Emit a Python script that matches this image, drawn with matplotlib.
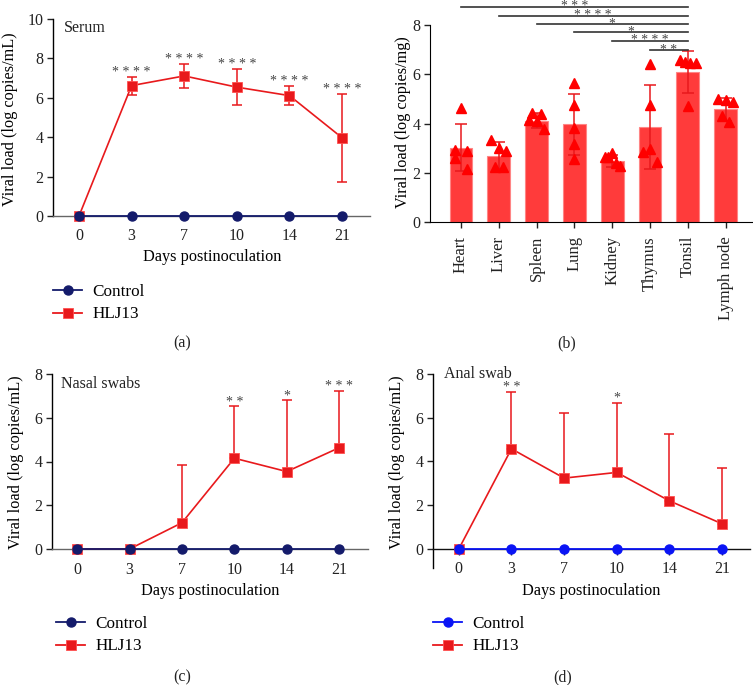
import numpy as np
import matplotlib
matplotlib.use("Agg")
import matplotlib.pyplot as plt
from matplotlib.lines import Line2D

plt.rcParams['font.family'] = ['Liberation Serif', 'DejaVu Serif']
plt.rcParams['font.size'] = 11.5

# ---------------- data ----------------
days = ["0", "3", "7", "10", "14", "21"]

serum_ctrl = [0, 0, 0, 0, 0, 0]
serum_hlj = [0, 6.62, 7.11, 6.54, 6.11, 3.97]
serum_sd = [0, 0.46, 0.60, 0.92, 0.48, 2.22]
serum_stars = ["", "****", "****", "****", "****", "****"]

organs = ["Heart", "Liver", "Spleen", "Lung", "Kidney", "Thymus", "Tonsil", "Lymph node"]
organ_mean = [3.02, 2.70, 4.12, 3.96, 2.49, 3.86, 6.08, 4.57]
organ_sd = [0.95, 0.55, 0.30, 1.25, 0.25, 1.70, 0.86, 0.45]
organ_points = [
    [4.62, 2.92, 2.90, 2.59, 2.16],
    [3.31, 3.00, 2.90, 2.22, 2.22],
    [4.43, 4.37, 4.13, 4.09, 3.79],
    [5.64, 4.77, 3.82, 3.17, 2.55],
    [2.63, 2.80, 2.62, 2.40, 2.27],
    [6.41, 4.77, 2.84, 2.96, 2.43],
    [6.57, 6.50, 6.45, 6.45, 4.71],
    [4.98, 4.94, 4.87, 4.30, 4.05],
]
point_jitter = [
    [0.0, -0.17, 0.17, -0.17, 0.17],
    [-0.21, 0.0, 0.2, -0.1, 0.1],
    [-0.11, 0.11, -0.2, 0.0, 0.2],
    [0.0, 0.0, 0.0, 0.0, 0.0],
    [-0.2, 0.0, -0.1, 0.1, 0.2],
    [0.0, 0.0, -0.18, 0.0, 0.18],
    [-0.2, -0.07, 0.06, 0.21, 0.0],
    [-0.21, 0.0, 0.2, -0.1, 0.1],
]
sig_from = ["Heart", "Liver", "Spleen", "Lung", "Kidney", "Thymus"]
sig_to = "Tonsil"
sig_y = [8.74, 8.38, 8.03, 7.70, 7.35, 6.98]
sig_stars = ["***", "****", "*", "*", "****", "**"]

nasal_ctrl = [0, 0, 0, 0, 0, 0]
nasal_hlj = [0, 0, 1.20, 4.15, 3.54, 4.63]
nasal_sd = [0, 0, 2.65, 2.37, 3.28, 2.61]
nasal_stars = ["", "", "", "**", "*", "***"]

anal_ctrl = [0, 0, 0, 0, 0, 0]
anal_hlj = [0, 4.58, 3.24, 3.50, 2.20, 1.15]
anal_sd = [0, 2.60, 2.96, 3.19, 3.04, 2.57]
anal_stars = ["", "**", "", "*", "", ""]

NAVY = '#141b6b'
BLUE = '#0a14f5'
RED = '#e8191c'
STAR_C = '#444444'
LABEL_FS = 11.7
TICK_FS = 11.5

W, H = 753, 685
fig = plt.figure(figsize=(W / 100, H / 100), dpi=100)


def px_axes(left, top, right, bottom):
    return fig.add_axes([left / W, 1 - bottom / H, (right - left) / W, (bottom - top) / H])


def line_panel(ax, ctrl, hlj, sd, stars, ctrl_color, symmetric, title, title_xy,
               ylim, yticks, xlim, xspine_color, xticks_len):
    x = np.arange(len(days))
    sd = np.array(sd)
    lower = sd if symmetric else np.zeros_like(sd)
    ax.errorbar(x, hlj, yerr=[lower, sd], fmt='none', ecolor=RED, elinewidth=1.1,
                capsize=3.5, capthick=1.1, zorder=2, clip_on=False)
    ax.plot(x, hlj, color=RED, lw=1.2, marker='s', ms=6.5, mfc=RED, mec='#ff5050',
            mew=0.6, zorder=3, clip_on=False, label='HLJ13')
    ax.plot(x, ctrl, color=ctrl_color, lw=1.3, marker='o', ms=6.5, mfc=ctrl_color,
            mec=ctrl_color, zorder=4, clip_on=False, label='Control')
    for xi, m, s, st in zip(x, hlj, sd, stars):
        if st:
            ax.annotate(" ".join(st), (xi, m + s), xytext=(0, 0.5), textcoords='offset points',
                        ha='center', va='baseline', fontsize=10, color=STAR_C)
    ax.set_xlim(*xlim)
    ax.set_ylim(*ylim)
    ax.set_yticks(yticks)
    ax.set_xticks(x)
    ax.set_xticklabels(days)
    for s in ['top', 'right']:
        ax.spines[s].set_visible(False)
    ax.spines['bottom'].set_position(('data', 0))
    ax.spines['bottom'].set_color(xspine_color)
    ax.spines['left'].set_linewidth(1.0)
    ax.spines['bottom'].set_linewidth(1.0)
    ax.tick_params(axis='y', length=4, width=1.0, pad=3, colors='#222222', labelsize=TICK_FS)
    ax.tick_params(axis='x', length=xticks_len, width=1.0, pad=9 - xticks_len, colors='#222222',
                   labelsize=TICK_FS)
    ax.text(title_xy[0], title_xy[1], title, transform=ax.transAxes, ha='left',
            va='center', fontsize=11.5, color='#222222')


# ---- (a) Serum ----
axA = px_axes(53, 19, 370, 216)
line_panel(axA, serum_ctrl, serum_hlj, serum_sd, serum_stars, NAVY, True,
           "Serum", (0.035, 0.954), (0, 10), [0, 2, 4, 6, 8, 10], (-0.494, 5.53), '#666666', 0)
axA.set_ylabel("Viral load (log copies/mL)", fontsize=LABEL_FS)
axA.yaxis.set_label_coords(-0.11, 0.49)
axA.set_xlabel("Days postinoculation", fontsize=LABEL_FS)
axA.xaxis.set_label_coords(0.502, -0.17)

# ---- (c) Nasal swabs ----
axC = px_axes(52, 374, 368, 549)
line_panel(axC, nasal_ctrl, nasal_hlj, nasal_sd, nasal_stars, NAVY, False,
           "Nasal swabs", (0.028, 0.943), (0, 8), [0, 2, 4, 6, 8], (-0.48, 5.55), '#666666', 0)
axC.set_ylabel("Viral load (log copies/mL)", fontsize=LABEL_FS)
axC.yaxis.set_label_coords(-0.088, 0.497)
axC.set_xlabel("Days postinoculation", fontsize=LABEL_FS)
axC.xaxis.set_label_coords(0.5, -0.192)

# ---- (d) Anal swab ----
axD = px_axes(433, 374, 750, 568)
line_panel(axD, anal_ctrl, anal_hlj, anal_sd, anal_stars, BLUE, False,
           "Anal swab", (0.035, 1.0), (-0.87, 8), [0, 2, 4, 6, 8], (-0.49, 5.53), '#111111', 4)
axD.set_ylabel("Viral load (log copies/mL)", fontsize=LABEL_FS)
axD.yaxis.set_label_coords(-0.088, 0.546)
axD.set_xlabel("Days postinoculation", fontsize=LABEL_FS)
axD.xaxis.set_label_coords(0.5, -0.078)

# ---- (b) organs ----
axB = px_axes(430, 25, 752, 222)
xb = np.arange(len(organs))
axB.bar(xb, organ_mean, width=0.6, color='#ff3b3b', edgecolor='#ff8585', linewidth=0.8, zorder=1)
axB.errorbar(xb, organ_mean, yerr=organ_sd, fmt='none', ecolor=RED, elinewidth=1.1,
             capsize=4.5, capthick=1.1, zorder=2)
for i, (pts, jit) in enumerate(zip(organ_points, point_jitter)):
    axB.plot(np.array(jit) + i, pts, linestyle='none', marker='^', ms=6.5, color='#ff0000',
             mec='#ff0000', zorder=3, clip_on=False)
to_i = organs.index(sig_to)
for name, yy, st in zip(sig_from, sig_y, sig_stars):
    fi = organs.index(name)
    axB.plot([fi, to_i], [yy, yy], color='#333333', lw=1.2, clip_on=False, zorder=4)
    axB.annotate(" ".join(st), ((fi + to_i) / 2, yy), xytext=(0, -2.5), textcoords='offset points',
                 ha='center', va='baseline', fontsize=9.8, color='#444444', annotation_clip=False)
axB.set_xlim(-0.82, 7.7)
axB.set_ylim(0, 8)
axB.set_yticks([0, 2, 4, 6, 8])
axB.set_xticks(xb)
axB.set_xticklabels(organs, rotation=90)
for s in ['top', 'right']:
    axB.spines[s].set_visible(False)
axB.tick_params(axis='y', length=4, width=1.0, pad=3, colors='#222222', labelsize=TICK_FS)
axB.tick_params(axis='x', length=4, width=1.0, pad=6, colors='#222222', labelsize=12)
axB.set_ylabel("Viral load (log copies/mg)", fontsize=LABEL_FS)
axB.yaxis.set_label_coords(-0.06, 0.505)

# ---- legends ----
def add_legend(ax, ctrl_color, left_px, top_px):
    handles = [Line2D([], [], color=ctrl_color, lw=1.3, marker='o', ms=6.5, mfc=ctrl_color, mec=ctrl_color),
               Line2D([], [], color=RED, lw=1.3, marker='s', ms=6.5, mfc=RED, mec='#ff5050', mew=0.6)]
    fig.legend(handles, ["Control", "HLJ13"], loc='upper left',
               bbox_to_anchor=(left_px / W, 1 - top_px / H), bbox_transform=fig.transFigure,
               frameon=False, borderpad=0, borderaxespad=0, handlelength=1.7,
               handletextpad=0.6, labelspacing=0.38, fontsize=12.3)

add_legend(axA, NAVY, 53, 284)
add_legend(axC, NAVY, 56, 616)
add_legend(axD, BLUE, 433, 616)

# ---- panel labels ----
for lab, (px, py) in zip(["(a)", "(b)", "(c)", "(d)"], [(182, 343), (567, 343), (182, 677), (563, 677)]):
    fig.text(px / W, 1 - py / H, lab, ha='center', va='center', fontsize=11.5, color='#222222')

fig.savefig("out.png", dpi=100)
